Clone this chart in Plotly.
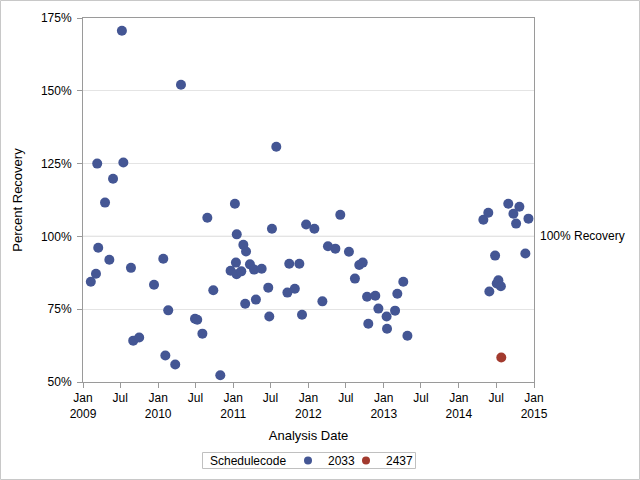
import plotly.graph_objects as go

# Schedulecode 2033
dates_2033 = [
    "2009-02-08", "2009-03-05", "2009-03-11", "2009-03-16", "2009-04-18", "2009-05-09",
    "2009-05-27", "2009-07-09", "2009-07-16", "2009-08-22", "2009-09-02", "2009-10-01",
    "2009-12-12", "2010-01-26", "2010-02-05", "2010-02-19", "2010-03-25", "2010-04-22",
    "2010-06-29", "2010-07-10", "2010-08-04", "2010-08-28", "2010-09-26", "2010-10-30",
    "2010-12-19", "2011-01-09", "2011-01-18", "2011-01-14", "2011-01-17", "2011-02-09",
    "2011-02-19", "2011-03-04", "2011-03-23", "2011-04-12", "2011-02-28", "2011-04-21",
    "2011-05-19", "2011-06-20", "2011-06-25", "2011-07-08", "2011-07-29", "2011-09-21",
    "2011-09-30", "2011-10-27", "2011-11-18", "2011-12-01", "2011-12-21",
    "2012-01-30", "2012-03-09", "2012-04-05", "2012-05-11", "2012-06-04", "2012-07-16",
    "2012-08-14", "2012-09-04", "2012-09-21", "2012-10-12", "2012-10-18", "2012-11-21",
    "2012-12-06", "2013-01-15", "2013-01-17", "2013-02-25", "2013-03-08", "2013-04-06",
    "2013-04-26", "2014-04-30", "2014-05-24", "2014-05-29", "2014-06-26", "2014-07-04",
    "2014-07-12", "2014-07-24", "2014-08-29", "2014-09-23", "2014-10-06", "2014-10-22",
    "2014-11-20", "2014-12-05",
]
recovery_2033 = [
    84.4, 87.2, 125.0, 96.1, 111.6, 92.0,
    119.8, 170.6, 125.4, 89.2, 64.2, 65.3,
    83.4, 92.3, 59.1, 74.6, 56.0, 152.1,
    71.7, 71.4, 66.6, 106.4, 81.5, 52.3,
    88.2, 111.2, 100.7, 91.0, 87.0, 88.0,
    97.1, 94.8, 90.4, 88.6, 76.9, 78.3,
    88.9, 82.4, 72.5, 102.6, 130.8, 80.7,
    90.6, 82.0, 90.6, 73.1, 104.1,
    102.6, 77.7, 96.6, 95.8, 107.4, 94.7,
    85.5, 90.2, 91.0, 79.3, 70.0, 79.6,
    75.2, 72.5, 68.3, 74.5, 80.3, 84.4,
    65.9, 105.7, 108.1, 81.1, 93.4, 83.8,
    84.9, 82.9, 111.2, 107.8, 104.4, 110.2,
    94.1, 106.1,
]

# Schedulecode 2437
dates_2437 = ["2014-07-26"]
recovery_2437 = [58.4]

x_tick_vals = ["2009-01-01", "2009-07-01", "2010-01-01", "2010-07-01", "2011-01-01",
               "2011-07-01", "2012-01-01", "2012-07-01", "2013-01-01", "2013-07-01",
               "2014-01-01", "2014-07-01", "2015-01-01"]
x_tick_text = ["Jan<br>2009", "Jul", "Jan<br>2010", "Jul", "Jan<br>2011", "Jul",
               "Jan<br>2012", "Jul", "Jan<br>2013", "Jul", "Jan<br>2014", "Jul",
               "Jan<br>2015"]
y_tick_vals = [50, 75, 100, 125, 150, 175]
y_tick_text = ["50%", "75%", "100%", "125%", "150%", "175%"]
ref_value = 100
ref_label = "100% Recovery"
legend_title = "Schedulecode"

FONT = "Liberation Sans, Arial, sans-serif"
AXIS_GRAY = "#9a9a9a"
BLUE = "#445694"
RED = "#A23A2E"

W, H = 640, 480
L, R, T, B = 83, 106, 18, 98
pw, ph = W - L - R, H - T - B


def px_x(p):
    return (p - L) / pw


def px_y(p):
    return (H - B - p) / ph


fig = go.Figure()
fig.add_trace(go.Scatter(
    x=dates_2033, y=recovery_2033, mode="markers", name="2033", showlegend=False,
    marker=dict(size=10, color=BLUE, line=dict(width=0)),
))
fig.add_trace(go.Scatter(
    x=dates_2437, y=recovery_2437, mode="markers", name="2437", showlegend=False,
    marker=dict(size=10, color=RED, line=dict(width=0)),
))
# legend entries (smaller swatches, as in the reference)
fig.add_trace(go.Scatter(x=[None], y=[None], mode="markers", name="2033", legendwidth=13,
                         marker=dict(size=8, color=BLUE, line=dict(width=0))))
fig.add_trace(go.Scatter(x=[None], y=[None], mode="markers", name="2437",
                         marker=dict(size=8, color=RED, line=dict(width=0))))

fig.add_shape(type="line", xref="paper", yref="y", x0=0, x1=1, y0=ref_value, y1=ref_value,
              line=dict(color="#a0a0a0", width=1), layer="below")
fig.add_annotation(xref="paper", yref="y", x=1, y=ref_value, text=ref_label,
                   showarrow=False, xanchor="left", yanchor="middle", xshift=4,
                   font=dict(family=FONT, size=12, color="black"))

# outer border of the graph
fig.add_shape(type="rect", xref="paper", yref="paper",
              x0=px_x(0.5), x1=px_x(W - 0.5), y0=px_y(H - 0.5), y1=px_y(0.5),
              line=dict(color="#c8c8c8", width=1))
# legend frame
fig.add_shape(type="rect", xref="paper", yref="paper",
              x0=px_x(202.5), x1=px_x(415.5), y0=px_y(468.5), y1=px_y(452.5),
              line=dict(color="#c0c0c0", width=1))
fig.add_annotation(xref="paper", yref="paper", x=px_x(208), y=px_y(460.5),
                   text=legend_title, showarrow=False, xanchor="left", yanchor="middle",
                   font=dict(family=FONT, size=12, color="black"))

fig.update_layout(
    width=W, height=H,
    margin=dict(l=L, r=R, t=T, b=B, autoexpand=False),
    paper_bgcolor="white", plot_bgcolor="white",
    font=dict(family=FONT, size=12, color="black"),
    showlegend=True,
    legend=dict(
        orientation="h", x=px_x(288), xanchor="left", y=px_y(460.5), yanchor="middle",
        bgcolor="rgba(0,0,0,0)", borderwidth=0, font=dict(size=12),
        itemsizing="trace",
    ),
    xaxis=dict(
        type="date", range=["2009-01-01", "2015-01-01"],
        tickvals=x_tick_vals, ticktext=x_tick_text,
        ticks="outside", ticklen=5, tickcolor=AXIS_GRAY,
        showline=True, linecolor=AXIS_GRAY, mirror=True, showgrid=False, zeroline=False,
        title=dict(text="Analysis Date", font=dict(size=13), standoff=10),
        tickfont=dict(size=12), automargin=False,
    ),
    yaxis=dict(
        range=[50, 175], tickvals=y_tick_vals, ticktext=y_tick_text,
        ticks="outside", ticklen=5, tickcolor=AXIS_GRAY, ticklabelstandoff=3,
        showline=True, linecolor=AXIS_GRAY, mirror=True,
        showgrid=True, gridcolor="#e4e4e4", zeroline=False,
        title=dict(text="Percent Recovery", font=dict(size=13), standoff=15),
        tickfont=dict(size=12), automargin=False,
    ),
)

fig.write_html("out.html", config={"displayModeBar": False},
               post_script="document.body.style.margin='0';")
